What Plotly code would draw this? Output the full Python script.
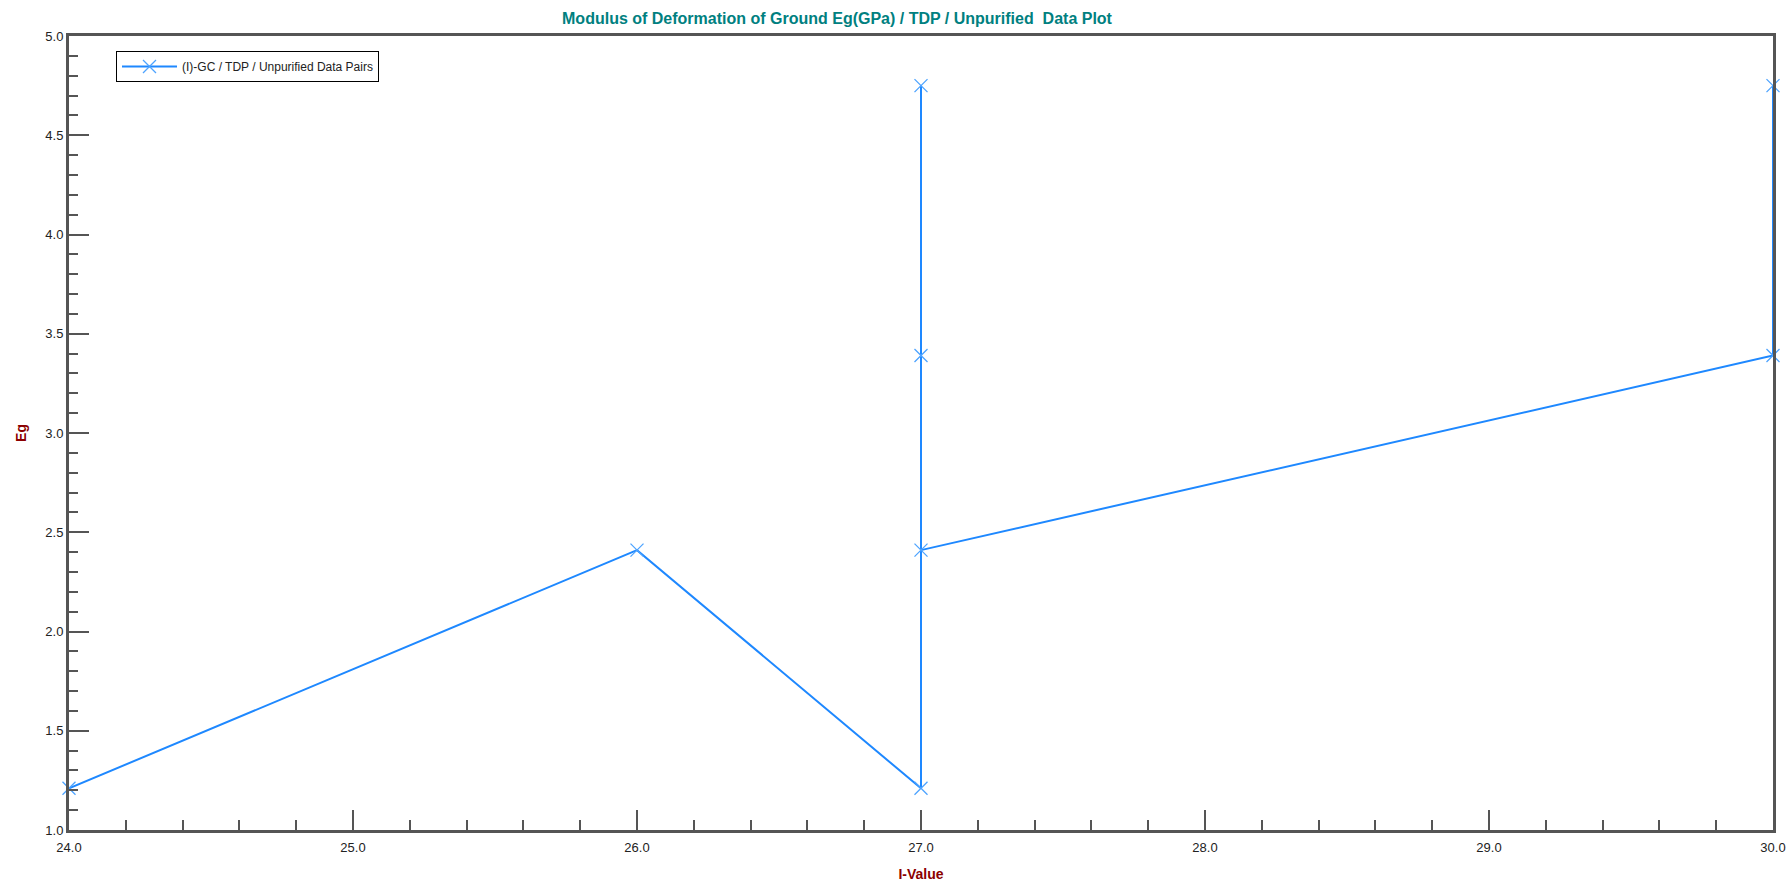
import plotly.graph_objects as go

# Data
i_value = [24.0, 26.0, 27.0, 27.0, 27.0, 27.0, 30.0, 30.0]
eg = [1.21, 2.41, 1.21, 4.75, 3.39, 2.41, 3.39, 4.75]
series_name = "(I)-GC / TDP / Unpurified Data Pairs"
title_text = "Modulus of Deformation of Ground Eg(GPa) / TDP / Unpurified  Data Plot"
x_title = "I-Value"
y_title = "Eg"
x_ticks = [24.0, 25.0, 26.0, 27.0, 28.0, 29.0, 30.0]
y_ticks = [1.0, 1.5, 2.0, 2.5, 3.0, 3.5, 4.0, 4.5, 5.0]

W, H = 1788, 882
L, R, T, B = 69, 15, 36, 52
axis_col = "#555555"
font_family = "Arial, 'Liberation Sans', sans-serif"

fig = go.Figure()
fig.add_trace(go.Scatter(
    x=i_value, y=eg, mode="lines+markers", name=series_name,
    line=dict(color="#1E88FF", width=2),
    marker=dict(symbol="x-thin", size=13, line=dict(color="#4DA3FF", width=1.3), color="#4DA3FF"),
    cliponaxis=False,
))

fig.update_layout(
    width=W, height=H,
    margin=dict(l=L, r=R, t=T, b=B, autoexpand=False),
    paper_bgcolor="white", plot_bgcolor="white",
    font=dict(family=font_family, size=13, color="#222222"),
    title=dict(text="<b>" + title_text + "</b>", x=837 / W, xanchor="center",
               xref="container", y=1 - 18 / H, yanchor="middle",
               font=dict(size=16, color="#008080", family=font_family)),
    showlegend=True,
    legend=dict(x=(116 - L) / (W - L - R), y=(H - B - 51) / (H - T - B), xanchor="left", yanchor="top",
                bgcolor="white", bordercolor="#000000", borderwidth=1,
                font=dict(size=12, color="#222222", family=font_family),
                itemwidth=55, entrywidth=230),
)

fig.update_xaxes(
    range=[24, 30], tickvals=x_ticks, ticktext=[f"{v:.1f}" for v in x_ticks],
    showgrid=False, zeroline=False, automargin=False,
    showline=True, linecolor=axis_col, linewidth=3, mirror=True,
    ticks="inside", ticklen=20, tickwidth=2, tickcolor=axis_col,
    minor=dict(ticks="inside", ticklen=10, tickwidth=2, tickcolor=axis_col, dtick=0.2, showgrid=False),
    tickfont=dict(size=13, color="#222222"), ticklabelstandoff=3,
    title=dict(text="<b>" + x_title + "</b>", font=dict(size=14, color="#8B0000"), standoff=19),
)
fig.update_yaxes(
    range=[1, 5], tickvals=y_ticks, ticktext=[f"{v:.1f}" for v in y_ticks],
    showgrid=False, zeroline=False, automargin=False,
    showline=True, linecolor=axis_col, linewidth=3, mirror=True,
    ticks="inside", ticklen=20, tickwidth=2, tickcolor=axis_col,
    minor=dict(ticks="inside", ticklen=9, tickwidth=2, tickcolor=axis_col, dtick=0.1, showgrid=False),
    tickfont=dict(size=13, color="#222222"),
    title=dict(text="<b>" + y_title + "</b>", font=dict(size=14, color="#8B0000"), standoff=16),
)

# remove the default page margin so the figure fills the 1788x882 window exactly
fig.write_html("out.html",
               config={"displayModeBar": False},
               post_script="document.body.style.margin='0';document.body.style.overflow='hidden';")
